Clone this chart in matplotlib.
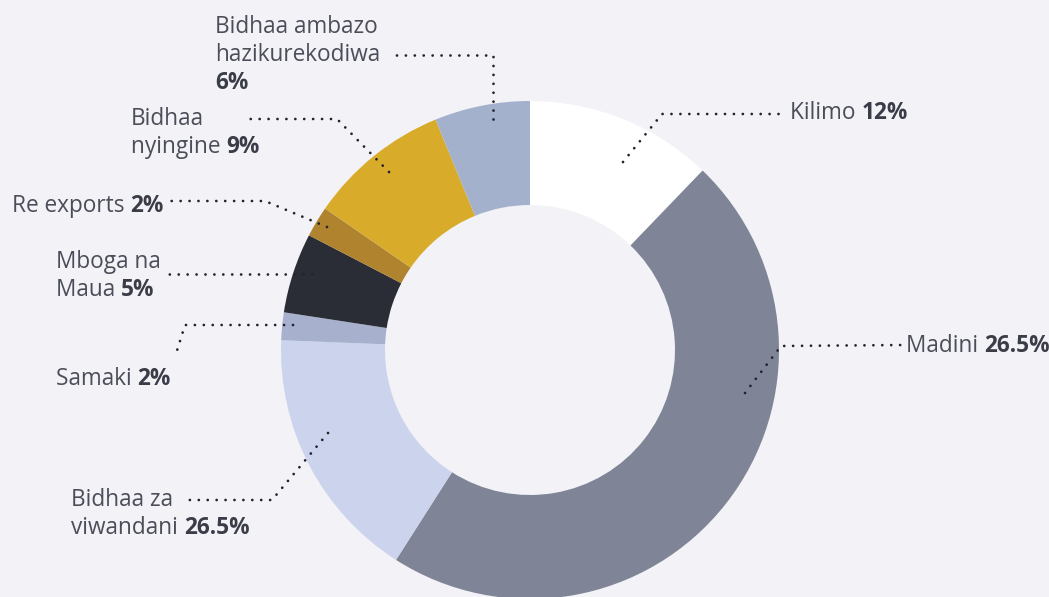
import matplotlib
matplotlib.use("Agg")
import matplotlib.pyplot as plt

# export shares by product group (slice sizes as drawn) and the printed labels
categories = ["Kilimo", "Madini", "Bidhaa za\nviwandani", "Samaki",
              "Mboga na\nMaua", "Re exports", "Bidhaa\nnyingine",
              "Bidhaa ambazo\nhazikurekodiwa\n"]
shares = [12.2, 46.9, 16.6, 1.8, 5.2, 2.0, 9.2, 6.2]
pct_labels = ["12%", "26.5%", "26.5%", "2%", "5%", "2%", "9%", "6%"]
colors = ["#ffffff", "#7f8597", "#cbd4ec", "#a7b0cd",
          "#2a2d36", "#b0832f", "#d8ab2a", "#a3b1cc"]

# label layout in pixels: text anchor (left, first baseline) and leader path
text_pos = [(790, 119), (906, 352), (71, 506), (56, 385),
            (56, 268), (12, 212), (131, 125), (215, 33)]
leaders = [
    [(623, 162), (662, 114), (782, 114)],
    [(745, 393), (781, 346), (903, 345)],
    [(328, 433), (272, 500), (183, 500)],
    [(293, 325), (185, 325), (175, 357)],
    [(312, 274), (163, 274)],
    [(327, 227), (265, 201), (165, 201)],
    [(389, 172), (337, 119), (245, 119)],
    [(493, 119), (493, 55), (389, 55)],
]

W, H = 1049, 597
bg = "#f2f2f7"
txt_col = "#4b4d59"
plt.rcParams['font.family'] = ['Open Sans', 'DejaVu Sans']

fig = plt.figure(figsize=(W / 100, H / 100), dpi=100, facecolor=bg)
ax = fig.add_axes([0, 0, 1, 1])
ax.set_facecolor(bg)

def py(y):
    return H - y

ax.pie(shares, colors=colors, startangle=90, counterclock=False,
       center=(530, py(350)), radius=249, frame=True,
       wedgeprops=dict(width=104, edgecolor='none'))
ax.set_xlim(0, W)
ax.set_ylim(0, H)
ax.set_aspect('equal')
ax.axis('off')

# dotted leader lines
for path in leaders:
    xs = [p[0] for p in path]
    ys = [py(p[1]) for p in path]
    ax.plot(xs, ys, color="#23232d", lw=2.0, linestyle=(0, (0.01, 3.2)),
            dash_capstyle='round', solid_capstyle='round')

# labels: regular name, bold percentage at the end of the last line
fig.canvas.draw()
renderer = fig.canvas.get_renderer()
fs = 16.3
line_h = 28
for name, pct, (x0, y0) in zip(categories, pct_labels, text_pos):
    lines = name.split("\n")
    for i, line in enumerate(lines[:-1]):
        ax.text(x0, py(y0 + i * line_h), line, fontsize=fs, color=txt_col,
                va='baseline', ha='left')
    y_last = py(y0 + (len(lines) - 1) * line_h)
    last = lines[-1]
    xb = x0
    if last:
        t = ax.text(x0, y_last, last + " ", fontsize=fs, color=txt_col,
                    va='baseline', ha='left')
        bb = t.get_window_extent(renderer=renderer)
        xb = x0 + bb.width
    ax.text(xb, y_last, pct, fontsize=fs, color="#3a3c47", fontweight='bold',
            va='baseline', ha='left')

fig.savefig("out.png", dpi=100, facecolor=bg)
